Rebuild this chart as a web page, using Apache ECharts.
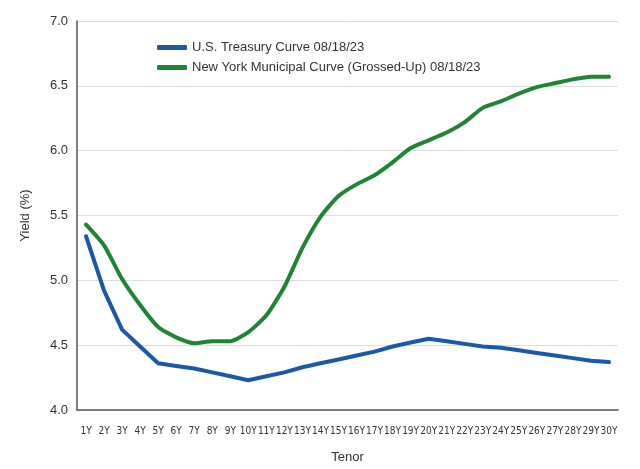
<!DOCTYPE html>
<html>
<head>
<meta charset="utf-8">
<script src="https://cdn.jsdelivr.net/npm/echarts@6/dist/echarts.min.js"></script>
<style>html,body{margin:0;padding:0;background:#fff}#c{width:640px;height:469px}</style>
</head>
<body>
<div id="c"></div>
<script>
const tenors = ['1Y','2Y','3Y','4Y','5Y','6Y','7Y','8Y','9Y','10Y','11Y','12Y','13Y','14Y','15Y','16Y','17Y','18Y','19Y','20Y','21Y','22Y','23Y','24Y','25Y','26Y','27Y','28Y','29Y','30Y'];
const treasury = [5.34,4.92,4.62,4.49,4.36,4.34,4.32,4.29,4.26,4.23,4.26,4.29,4.33,4.36,4.39,4.42,4.45,4.49,4.52,4.55,4.53,4.51,4.49,4.48,4.46,4.44,4.42,4.40,4.38,4.37];
const nyMuni = [5.43,5.27,5.01,4.81,4.64,4.56,4.515,4.53,4.53,4.60,4.73,4.95,5.25,5.49,5.65,5.74,5.81,5.91,6.02,6.08,6.14,6.22,6.33,6.38,6.44,6.49,6.52,6.55,6.57,6.57];
const seriesNames = ['U.S. Treasury Curve 08/18/23','New York Municipal Curve (Grossed-Up) 08/18/23'];
const yTicks = [4.0,4.5,5.0,5.5,6.0,6.5,7.0];

const FONT = '"Liberation Sans", Arial, sans-serif';
const chart = echarts.init(document.getElementById('c'));
chart.setOption({
  animation: false,
  backgroundColor: '#fff',
  textStyle: {fontFamily: FONT},
  legend: {
    orient: 'vertical', left: 152, top: 36, itemWidth: 30, itemHeight: 5, itemGap: 7,
    icon: 'roundRect',
    textStyle: {fontSize: 13, color: '#333', fontFamily: FONT},
    data: seriesNames
  },
  grid: {left: 77, right: 22, top: 21, bottom: 57},
  xAxis: {
    type: 'category', data: tenors, boundaryGap: true,
    name: 'Tenor', nameLocation: 'middle', nameGap: 41,
    nameTextStyle: {fontSize: 13, color: '#333', fontFamily: FONT},
    axisLine: {lineStyle: {color: '#555', width: 1.5}},
    axisTick: {show: false},
    axisLabel: {interval: 0, fontSize: 10, color: '#333', margin: 16, fontFamily: '"Liberation Sans Narrow", "DejaVu Sans Condensed", sans-serif'}
  },
  yAxis: {
    type: 'value', min: yTicks[0], max: yTicks[yTicks.length-1], interval: 0.5,
    name: 'Yield (%)', nameLocation: 'middle', nameGap: 45,
    nameTextStyle: {fontSize: 13, color: '#333', fontFamily: FONT},
    axisLine: {show: true, lineStyle: {color: '#555', width: 1.5}},
    axisTick: {show: false},
    axisLabel: {fontSize: 13, color: '#333', margin: 9, padding: [4,0,0,0], fontFamily: FONT, formatter: v => v.toFixed(1)},
    splitLine: {lineStyle: {color: '#ddd'}}
  },
  series: [
    {name: seriesNames[0], type: 'line', data: treasury, showSymbol: false,
     lineStyle: {width: 4, color: '#1b59a8', join: 'round', cap: 'round'}, itemStyle: {color: '#1b59a8'}},
    {name: seriesNames[1], type: 'line', data: nyMuni, showSymbol: false, smooth: 0.2,
     lineStyle: {width: 4, color: '#1f8436', join: 'round', cap: 'round'}, itemStyle: {color: '#1f8436'}}
  ]
});
</script>
</body>
</html>
